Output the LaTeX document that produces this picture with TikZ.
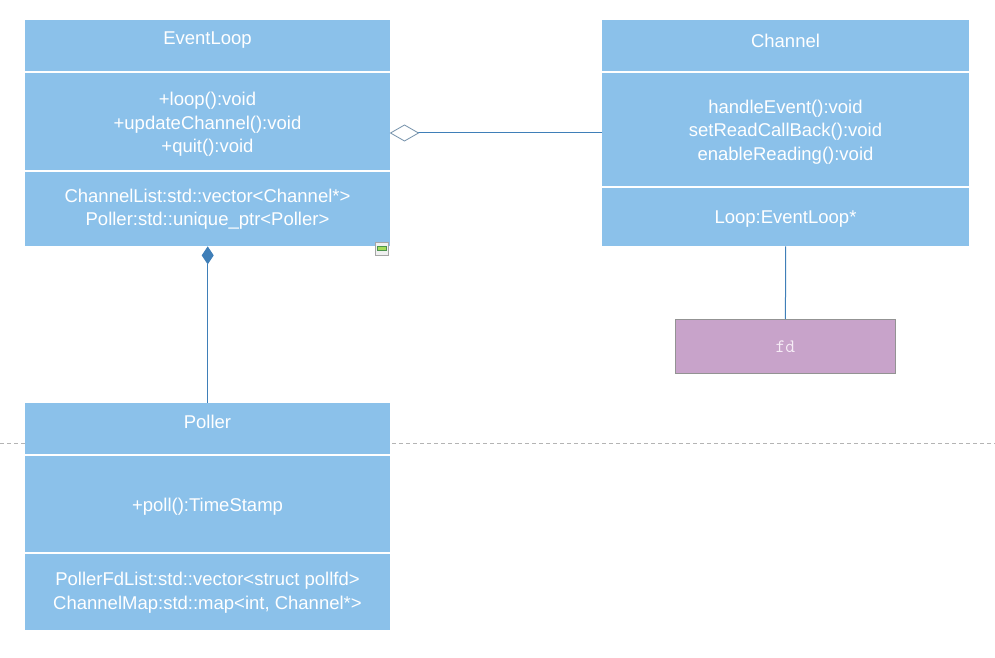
\documentclass[tikz,border=0pt]{standalone}
\usepackage{fontspec}
\setmainfont{Liberation Sans}
\usetikzlibrary{arrows.meta}
\definecolor{boxblue}{HTML}{8BC1EA}
\definecolor{linkblue}{HTML}{3F7FB8}
\definecolor{diamgray}{HTML}{6E8CA6}
\definecolor{fdfill}{HTML}{C8A3CA}
\definecolor{fdtext}{HTML}{F6ECF6}
\definecolor{dashgray}{HTML}{B4B4B4}
\definecolor{icongreen}{HTML}{A6DB5A}
\tikzset{
  cls/.style={rectangle, fill=boxblue, draw=none, minimum width=365bp, minimum height=226bp, anchor=north west, inner sep=0pt},
  txt/.style={text=white, font=\fontsize{18.5bp}{23.5bp}\selectfont, align=center, inner sep=0pt},
  divline/.style={white, line width=1.2bp},
  link/.style={linkblue, line width=1bp},
}
\begin{document}
\begin{tikzpicture}[x=1bp,y=-1bp]
\useasboundingbox (0,0) rectangle (995,658);
% dashed page line
\coordinate (dl) at (0,443);
\coordinate (dr) at (995,443);
\draw[dashgray, line width=0.8bp, dash pattern=on 4bp off 3bp] (dl) -- (dr);
% boxes
\node[cls] (el) at (25,20) {};
\node[cls, minimum width=367bp] (ch) at (602,20) {};
\node[cls, minimum height=227bp] (po) at (25,403) {};
\node[rectangle, fill=fdfill, draw=gray!85, line width=0.8bp, minimum width=220bp, minimum height=54bp, anchor=north west, inner sep=0pt] (fd) at (675,319) {};
% dividers
\draw[divline] (25,72) -- (390,72);
\draw[divline] (25,171) -- (390,171);
\draw[divline] (602,72) -- (969,72);
\draw[divline] (602,187) -- (969,187);
\draw[divline] (25,455) -- (390,455);
\draw[divline] (25,553) -- (390,553);
% texts
\node[txt] (elt) at (207.5,40.5) {EventLoop};
\node[txt] (elm) at (207.5,124.5) {+loop():void\\+updateChannel():void\\+quit():void};
\node[txt] (ela) at (207.5,209) {ChannelList:std::vector<Channel*>\\Poller:std::unique\_ptr<Poller>};
\node[txt] (cht) at (785.5,40.5) {Channel};
\node[txt] (chm) at (785.5,132) {handleEvent():void\\setReadCallBack():void\\enableReading():void};
\node[txt] (cha) at (785.5,219.5) {Loop:EventLoop*};
\node[txt] (pot) at (207.5,421.5) {Poller};
\node[txt] (pom) at (207.5,506.5) {+poll():TimeStamp};
\node[txt] (poa) at (207.5,592.5) {PollerFdList:std::vector<struct pollfd>\\ChannelMap:std::map<int, Channel*>};
\node[text=fdtext, font=\ttfamily\fontsize{19bp}{21bp}\selectfont, inner sep=0pt] (fdt) at (fd.center) {fd};
% connectors
\coordinate (aggA) at (602,133);
\coordinate (aggB) at (390.5,133);
\draw[link] (aggA) -- (aggB);
\draw[diamgray, line width=0.8bp, fill=white] (aggB) -- (404.5,125) -- (418.5,133) -- (404.5,141) -- cycle;
\draw[link, {Diamond[length=18bp,width=12bp,fill=linkblue]}-] (el.south) -- (po.north);
\draw[link] (ch.south) -- (fd.north);
% small collapse icon
\node[rectangle, draw=gray!70, fill=gray!12, line width=0.6bp, minimum width=13bp, minimum height=13bp, inner sep=0pt] (ic) at (381.5,248.5) {};
\node[rectangle, draw=green!40!black!70, fill=icongreen, line width=0.5bp, minimum width=9bp, minimum height=4bp, inner sep=0pt] (icb) at (ic.center) {};
\end{tikzpicture}
\end{document}
